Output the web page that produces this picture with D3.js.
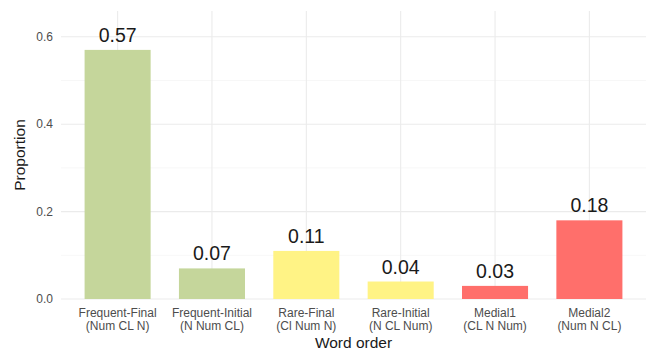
<!DOCTYPE html>
<html>
<head>
<meta charset="utf-8">
<script src="https://cdn.jsdelivr.net/npm/d3@7"></script>
<style>
  html, body { margin: 0; padding: 0; background: #fff; }
  svg { display: block; font-family: "Liberation Sans", Arial, sans-serif; }
</style>
</head>
<body>
<svg id="chart" width="649" height="354"></svg>
<script>
// Word-order categories (two-line labels) and their proportions
const orderNames = ["Frequent-Final", "Frequent-Initial", "Rare-Final", "Rare-Initial", "Medial1", "Medial2"];
const orderPatterns = ["(Num CL N)", "(N Num CL)", "(Cl Num N)", "(N CL Num)", "(CL N Num)", "(Num N CL)"];
const proportions = [0.57, 0.07, 0.11, 0.04, 0.03, 0.18];
const groups = ["frequent", "frequent", "rare", "rare", "medial", "medial"];
const yTicks = [0, 0.2, 0.4, 0.6];
const yMinorTicks = [0.1, 0.3, 0.5];

const groupColor = d3.scaleOrdinal()
  .domain(["frequent", "rare", "medial"])
  .range(["#c5d69b", "#fff385", "#ff6f6b"]);

const svg = d3.select("#chart");
const panel = { left: 61, right: 646, top: 11, bottom: 299 };

// bars take 0.7 of each step; 0.6 step of space outside the outer bar centres
const x = d3.scaleBand()
  .domain(orderNames)
  .range([panel.left, panel.right])
  .paddingInner(0.3)
  .paddingOuter(0.25);
const center = d => x(d) + x.bandwidth() / 2;

const y = d3.scaleLinear()
  .domain([0, 0.659])
  .range([panel.bottom, panel.top]);

// grid
const grid = svg.append("g");
grid.selectAll(".minor").data(yMinorTicks).join("line")
  .attr("x1", panel.left).attr("x2", panel.right)
  .attr("y1", d => y(d)).attr("y2", d => y(d))
  .attr("stroke", "#f2f2f2").attr("stroke-width", 0.6);
grid.selectAll(".major").data(yTicks).join("line")
  .attr("x1", panel.left).attr("x2", panel.right)
  .attr("y1", d => y(d)).attr("y2", d => y(d))
  .attr("stroke", "#ebebeb").attr("stroke-width", 1.1);
grid.selectAll(".vmajor").data(orderNames).join("line")
  .attr("x1", center).attr("x2", center)
  .attr("y1", panel.top).attr("y2", panel.bottom)
  .attr("stroke", "#ebebeb").attr("stroke-width", 1.1);

// bars
svg.append("g").selectAll("rect").data(proportions).join("rect")
  .attr("x", (d, i) => x(orderNames[i]))
  .attr("width", x.bandwidth())
  .attr("y", d => y(d))
  .attr("height", d => y(0) - y(d))
  .attr("fill", (d, i) => groupColor(groups[i]));

// value labels
svg.append("g").selectAll("text").data(proportions).join("text")
  .attr("x", (d, i) => center(orderNames[i]))
  .attr("y", d => y(d) - 8)
  .attr("text-anchor", "middle")
  .attr("font-size", 19.5)
  .attr("fill", "#1a1a1a")
  .text(d => d.toFixed(2));

// y axis tick labels
svg.append("g").selectAll("text").data(yTicks).join("text")
  .attr("x", 53)
  .attr("y", d => y(d))
  .attr("dy", "0.35em")
  .attr("text-anchor", "end")
  .attr("font-size", 12)
  .attr("fill", "#4d4d4d")
  .text(d => d.toFixed(1));

// x axis tick labels
const xl = svg.append("g").selectAll("text").data(orderNames).join("text")
  .attr("text-anchor", "middle")
  .attr("font-size", 12)
  .attr("fill", "#4d4d4d");
xl.append("tspan").attr("x", center).attr("y", 317).text(d => d);
xl.append("tspan").attr("x", center).attr("y", 330).text((d, i) => orderPatterns[i]);

// axis titles
svg.append("text")
  .attr("x", (panel.left + panel.right) / 2)
  .attr("y", 348)
  .attr("text-anchor", "middle")
  .attr("font-size", 15.5)
  .attr("fill", "#1a1a1a")
  .text("Word order");

svg.append("text")
  .attr("transform", `translate(25,${(panel.top + panel.bottom) / 2}) rotate(-90)`)
  .attr("text-anchor", "middle")
  .attr("font-size", 15.5)
  .attr("fill", "#1a1a1a")
  .text("Proportion");
</script>
</body>
</html>
